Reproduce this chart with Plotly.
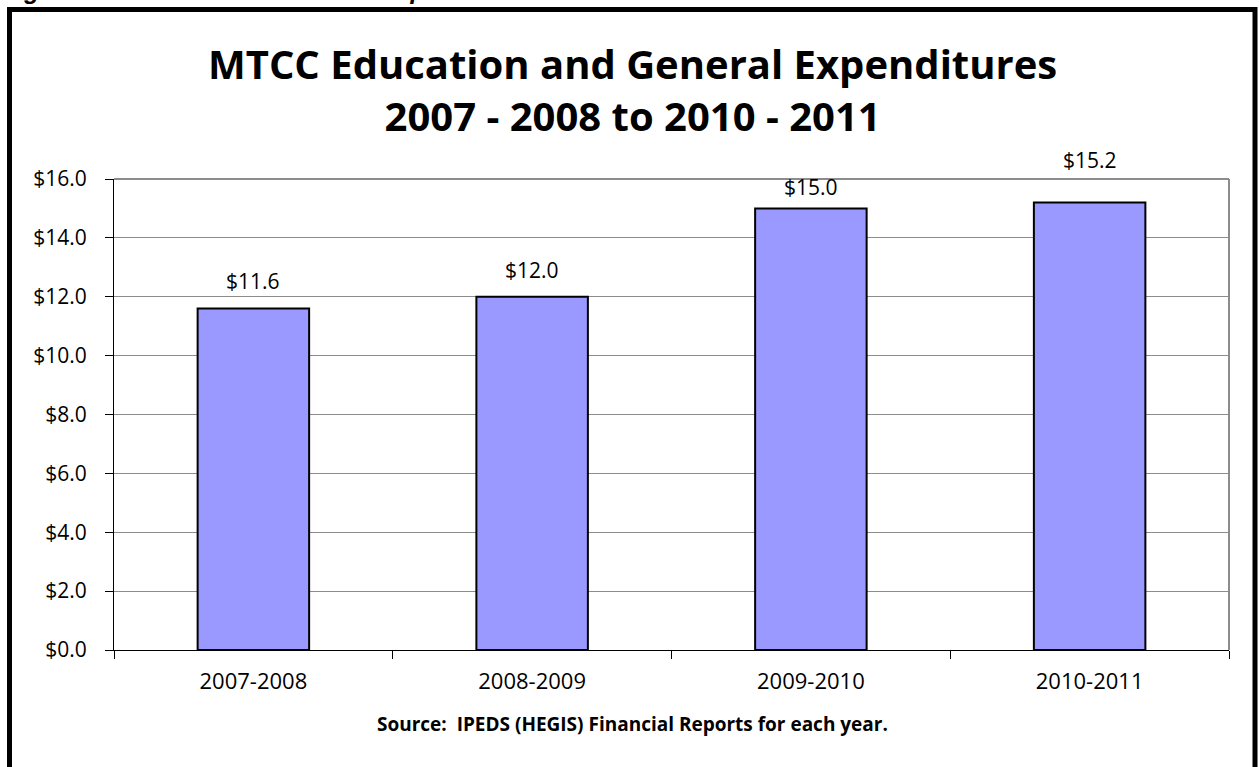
import plotly.graph_objects as go

years = ["2007-2008", "2008-2009", "2009-2010", "2010-2011"]
expenditures = [11.6, 12.0, 15.0, 15.2]
y_ticks = [0, 2, 4, 6, 8, 10, 12, 14, 16]
y_tick_labels = ["$%.1f" % v for v in y_ticks]

# vertical offset (px) of each value label above its bar
label_lift = [12, 11, 5, 27]

W, H = 1259, 767
L, R, T, B = 114, 30, 179, 117
pw, ph = W - L - R, H - T - B
FONT = "Open Sans, Lato, sans-serif"


def px_x(x):
    return (x - L) / pw


def px_y(y):
    return (H - B - y) / ph


fig = go.Figure()
fig.add_trace(go.Bar(
    x=years,
    y=expenditures,
    width=0.4,
    marker=dict(color="#9999ff", line=dict(color="black", width=2)),
    cliponaxis=False,
))

# value labels above each bar
for yr, v, lift in zip(years, expenditures, label_lift):
    fig.add_annotation(
        x=yr, y=v, xref="x", yref="y", text="$%.1f" % v,
        showarrow=False, yanchor="bottom", yshift=lift,
        font=dict(family=FONT, size=21, color="black"),
    )

fig.update_layout(
    width=W, height=H,
    margin=dict(l=L, r=R, t=T, b=B),
    paper_bgcolor="white",
    plot_bgcolor="white",
    showlegend=False,
    font=dict(family=FONT, color="black"),
    xaxis=dict(
        type="category",
        range=[-0.5, 3.5],
        tickson="boundaries",
        ticks="outside",
        ticklen=8,
        tickcolor="black",
        showline=True,
        linecolor="black",
        linewidth=1,
        showgrid=False,
        tickfont=dict(size=22),
        ticklabelstandoff=12,
    ),
    yaxis=dict(
        range=[0, 16],
        tickvals=y_ticks,
        ticktext=y_tick_labels,
        ticks="outside",
        ticklen=8,
        tickcolor="black",
        showline=True,
        linecolor="black",
        linewidth=1,
        showgrid=True,
        gridcolor="#8c8c8c",
        gridwidth=1,
        zeroline=False,
        tickfont=dict(size=21),
        ticklabelstandoff=14,
    ),
)

# gray frame on top and right of plot area
fig.add_shape(type="line", xref="paper", yref="paper", x0=0, x1=1, y0=1, y1=1,
              line=dict(color="#8c8c8c", width=2))
fig.add_shape(type="line", xref="paper", yref="paper", x0=1, x1=1, y0=0, y1=1,
              line=dict(color="#8c8c8c", width=2))

# outer chart border
fig.add_shape(type="rect", xref="paper", yref="paper",
              x0=px_x(9.5), x1=px_x(1255), y0=px_y(790), y1=px_y(9.5),
              line=dict(color="black", width=5), fillcolor="rgba(0,0,0,0)")

# chart title
fig.add_annotation(
    xref="paper", yref="paper", x=px_x(632), y=px_y(89), xanchor="center", yanchor="middle",
    text="<b>MTCC Education and General Expenditures<br>2007 - 2008 to 2010 - 2011</b>",
    showarrow=False, font=dict(size=40, family=FONT, color="black"),
)

# source note
fig.add_annotation(
    xref="paper", yref="paper", x=px_x(632), y=px_y(724), xanchor="center", yanchor="middle",
    text="<b>Source:  IPEDS (HEGIS) Financial Reports for each year.</b>",
    showarrow=False, font=dict(size=19, family=FONT, color="black"),
)

# page caption above the chart box
fig.add_annotation(
    xref="paper", yref="paper", x=px_x(0), y=px_y(6), xanchor="left", yanchor="bottom",
    text="<b><i>Figure 2.7 Education &amp; General Expenditures 2007-08 to 2010-11</i></b>",
    showarrow=False, font=dict(size=25, family="Liberation Sans, Arial, sans-serif", color="black"),
)

fig.write_html("out.html")
